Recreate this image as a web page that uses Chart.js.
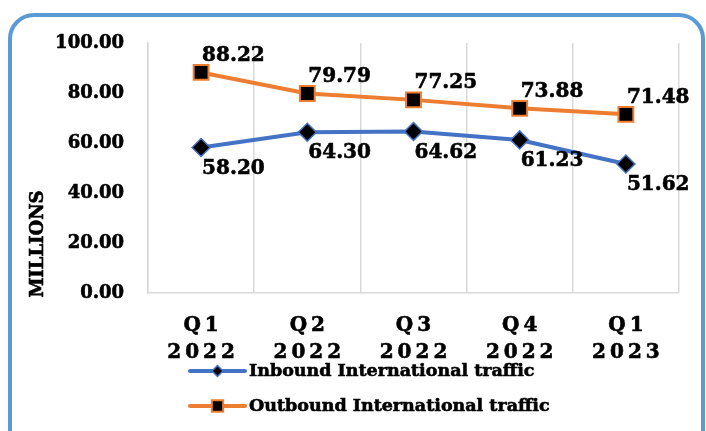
<!DOCTYPE html>
<html>
<head>
<meta charset="utf-8">
<script src="https://cdn.jsdelivr.net/npm/chart.js@4/dist/chart.umd.min.js"></script>
<style>
  html, body { margin: 0; padding: 0; background: #fff; }
  #wrap { width: 706px; height: 431px; }
  canvas { display: block; background: #fff; }
</style>
</head>
<body>
<div id="wrap"><canvas id="chart" width="706" height="431"></canvas></div>
<script>
// Quarter labels (two lines each, letters slightly spread)
const quarters = [
  ['Q\u20091', '2\u20090\u20092\u20092'],
  ['Q\u20092', '2\u20090\u20092\u20092'],
  ['Q\u20093', '2\u20090\u20092\u20092'],
  ['Q\u20094', '2\u20090\u20092\u20092'],
  ['Q\u20091', '2\u20090\u20092\u20093']
];
// Traffic in millions
const inbound = [58.20, 64.30, 64.62, 61.23, 51.62];
const outbound = [88.22, 79.79, 77.25, 73.88, 71.48];
const seriesNames = ['Inbound International traffic', 'Outbound International traffic'];
const yTitle = 'MILLIONS';
const yRange = { min: 0, max: 100, step: 20 };

const FONT = '"DejaVu Serif", "Liberation Serif", serif';
const TEXT_STROKE = 0.6;

// Draws heavier bold text: fill plus a thin outline
function heavyText(ctx, text, x, y) {
  ctx.fillText(text, x, y);
  ctx.lineWidth = TEXT_STROKE;
  ctx.strokeStyle = ctx.fillStyle;
  ctx.strokeText(text, x, y);
}

// Rounded blue frame around the whole chart
const framePlugin = {
  id: 'frame',
  beforeDraw(chart) {
    const ctx = chart.ctx;
    ctx.save();
    ctx.strokeStyle = '#5B9BD5';
    ctx.lineWidth = 4;
    ctx.beginPath();
    ctx.roundRect(10, 15, 693, 470, 24);
    ctx.stroke();
    ctx.restore();
  }
};

// Rotated axis title, sitting low beside the value axis
const yTitlePlugin = {
  id: 'yTitle',
  afterDraw(chart) {
    const ctx = chart.ctx;
    ctx.save();
    ctx.translate(38, 244);
    ctx.rotate(-Math.PI / 2);
    ctx.font = 'bold 18px ' + FONT;
    ctx.fillStyle = '#000';
    ctx.textAlign = 'center';
    ctx.textBaseline = 'middle';
    heavyText(ctx, yTitle, 0, 0);
    ctx.restore();
  }
};

// Value labels next to each point
const valueLabels = {
  id: 'valueLabels',
  afterDatasetsDraw(chart) {
    const ctx = chart.ctx;
    ctx.save();
    ctx.font = 'bold 20px ' + FONT;
    ctx.textAlign = 'left';
    ctx.textBaseline = 'middle';
    chart.data.datasets.forEach((ds, i) => {
      const meta = chart.getDatasetMeta(i);
      meta.data.forEach((pt, j) => {
        ctx.fillStyle = '#000';
        heavyText(ctx, ds.data[j].toFixed(2), pt.x + ds.labelDx, pt.y + ds.labelDy);
      });
    });
    ctx.restore();
  }
};

// Stacked legend: line sample with marker, then the series name
const stackedLegend = {
  id: 'stackedLegend',
  afterDraw(chart) {
    const ctx = chart.ctx;
    const x0 = 190, x1 = 245, tx = 249;
    const rows = [371, 406];
    chart.data.datasets.forEach((ds, i) => {
      const y = rows[i];
      ctx.save();
      ctx.strokeStyle = ds.borderColor;
      ctx.lineWidth = 4;
      ctx.lineCap = 'round';
      ctx.beginPath();
      ctx.moveTo(x0, y);
      ctx.lineTo(x1, y);
      ctx.stroke();
      ctx.fillStyle = ds.pointBackgroundColor;
      ctx.strokeStyle = ds.pointBorderColor;
      ctx.lineWidth = ds.pointBorderWidth;
      Chart.helpers.drawPoint(ctx, {
        pointStyle: ds.pointStyle,
        radius: ds.legendPointRadius,
        borderWidth: ds.pointBorderWidth,
        rotation: 0
      }, (x0 + x1) / 2, y);
      ctx.font = 'bold 17.5px ' + FONT;
      ctx.fillStyle = '#000';
      ctx.textAlign = 'left';
      ctx.textBaseline = 'middle';
      heavyText(ctx, ds.label, tx, y);
      ctx.restore();
    });
  }
};

new Chart(document.getElementById('chart'), {
  type: 'line',
  data: {
    labels: quarters,
    datasets: [
      {
        label: seriesNames[0],
        data: inbound,
        borderColor: '#4472C4',
        borderWidth: 4,
        pointStyle: 'rectRot',
        pointRadius: 9,
        pointBackgroundColor: '#000',
        pointBorderColor: '#4472C4',
        pointBorderWidth: 1.5,
        legendPointRadius: 5.5,
        labelDx: 1,
        labelDy: 21,
        tension: 0
      },
      {
        label: seriesNames[1],
        data: outbound,
        borderColor: '#ED7D31',
        borderWidth: 4,
        pointStyle: 'rect',
        pointRadius: 10.5,
        pointBackgroundColor: '#000',
        pointBorderColor: '#ED7D31',
        pointBorderWidth: 2,
        legendPointRadius: 8,
        labelDx: 1,
        labelDy: -17,
        tension: 0
      }
    ]
  },
  options: {
    responsive: false,
    animation: false,
    events: [],
    layout: { padding: { left: 0, top: 43, right: 27, bottom: 0 } },
    plugins: {
      legend: { display: false },
      tooltip: { enabled: false }
    },
    scales: {
      x: {
        type: 'category',
        offset: true,
        grid: { display: true, offset: true, color: '#d9d9d9', lineWidth: 1.5, drawTicks: false },
        border: { display: true, color: '#d9d9d9', width: 1.5 },
        ticks: {
          color: '#000',
          padding: 19,
          maxRotation: 0,
          autoSkip: false,
          textStrokeColor: '#000',
          textStrokeWidth: TEXT_STROKE,
          font: { family: FONT, size: 20, weight: 'bold', lineHeight: 1.35 }
        },
        afterFit(scale) { scale.height = 138; }
      },
      y: {
        min: yRange.min,
        max: yRange.max,
        grid: { drawOnChartArea: false, drawTicks: false },
        border: { display: true, color: '#d9d9d9', width: 1.5 },
        ticks: {
          stepSize: yRange.step,
          color: '#000',
          padding: 24,
          textStrokeColor: '#000',
          textStrokeWidth: TEXT_STROKE,
          font: { family: FONT, size: 18, weight: 'bold' },
          callback: (v) => Number(v).toFixed(2)
        },
        afterFit(scale) { scale.width = 148; }
      }
    }
  },
  plugins: [framePlugin, valueLabels, yTitlePlugin, stackedLegend]
});
</script>
</body>
</html>
